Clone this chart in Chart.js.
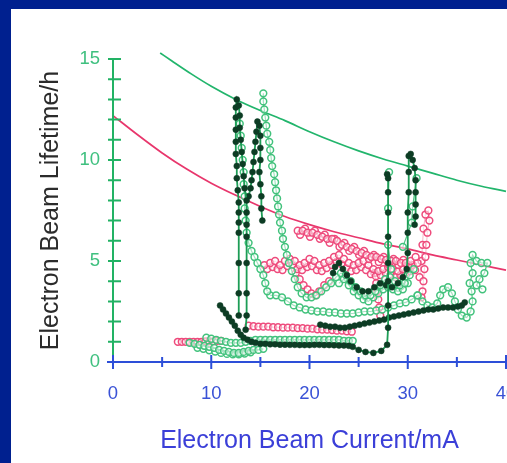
<!DOCTYPE html>
<html>
<head>
<meta charset="utf-8">
<script src="https://cdn.jsdelivr.net/npm/chart.js@4.4.1/dist/chart.umd.min.js"></script>
<style>
  html, body { margin: 0; padding: 0; overflow: hidden; }
  body { width: 507px; height: 463px; background: #00208f; position: relative; }
  #panel { position: absolute; left: 11px; top: 9px; width: 496px; height: 454px; background: #fff; overflow: hidden; }
  #wrap { position: absolute; left: 0; top: 0; width: 540px; height: 454px; }
</style>
</head>
<body>
<div id="panel"><div id="wrap"><canvas id="chart"></canvas></div></div>
<script>
// Lifetime vs. beam current: two model curves plus the measured runs.
const upperCurveCurrent = [4.8, 6, 8, 10, 12.5, 15, 17.5, 20, 22.5, 25, 27.5, 30, 32.5, 35, 37.5, 40];
const upperCurveLifetime = [15.3, 14.9, 14.25, 13.65, 13.0, 12.45, 11.95, 11.4, 10.9, 10.45, 10.05, 9.7, 9.35, 9.0, 8.7, 8.45];

const lowerCurveCurrent = [0, 2.5, 5, 7.5, 10, 12.5, 15, 17.5, 20, 22.5, 25, 27.5, 30, 32.5, 35, 37.5, 40];
const lowerCurveLifetime = [12.2, 11.25, 10.35, 9.55, 8.85, 8.25, 7.7, 7.2, 6.8, 6.45, 6.15, 5.85, 5.6, 5.3, 5.05, 4.8, 4.55];

// measured runs, [current mA, lifetime h]
const darkSpikeA = [
  [12.8, 2.3], [12.8, 3.4], [12.8, 4.9], [12.8, 6.4], [12.8, 6.9], [12.8, 7.4], [12.8, 7.9],
  [12.7, 8.5], [12.6, 9.1], [12.6, 9.7], [12.5, 10.3], [12.5, 10.9], [12.5, 11.5], [12.5, 12.1],
  [12.5, 12.6], [12.6, 13.0], [12.8, 12.7], [12.9, 12.2], [12.9, 11.6], [13.0, 11.0], [13.1, 10.4],
  [13.2, 9.8], [13.3, 9.2], [13.4, 8.6], [13.6, 8.0], [13.6, 7.4], [13.6, 6.8], [13.6, 6.2],
  [13.6, 4.9], [13.6, 3.4], [13.6, 2.3], [13.5, 1.6],
];
const darkSpikeB = [
  [13.8, 8.2], [14.0, 8.6], [14.1, 9.0], [14.2, 9.4], [14.3, 9.9], [14.4, 10.4], [14.5, 10.9],
  [14.6, 11.4], [14.7, 11.9], [14.9, 11.7], [15.0, 11.2], [15.0, 10.6], [15.0, 10.0], [14.9, 9.4],
  [15.0, 8.8], [15.1, 8.2], [15.1, 7.6], [15.2, 7.0],
];
const darkBottom = [
  [10.9, 2.8], [11.2, 2.6], [11.5, 2.4], [11.8, 2.2], [12.1, 2.0], [12.4, 1.8], [12.7, 1.55],
  [13.0, 1.35], [13.3, 1.2], [13.7, 1.1], [14.1, 1.0], [14.5, 0.95], [15.0, 0.9], [15.5, 0.9],
  [16.0, 0.88], [16.5, 0.88], [17.0, 0.86], [17.5, 0.86], [18.0, 0.85], [18.5, 0.85], [19.0, 0.84],
  [19.5, 0.84], [20.0, 0.84], [20.5, 0.85], [21.0, 0.85], [21.5, 0.84], [22.0, 0.84], [22.5, 0.83],
  [23.0, 0.82], [23.5, 0.82], [24.0, 0.8], [24.4, 0.75], [25.0, 0.6], [25.7, 0.5], [26.5, 0.45],
  [27.3, 0.55], [27.9, 0.85], [28.0, 1.7], [28.0, 2.8], [28.0, 4.0], [28.0, 4.9], [28.0, 6.2],
  [28.0, 7.4], [28.0, 8.4], [28.0, 9.1], [27.9, 9.3],
];
const darkMiddle = [
  [22.4, 4.4], [22.6, 4.7], [23.0, 4.9], [23.4, 4.6], [23.8, 4.3], [24.2, 4.0], [24.8, 3.7],
  [25.4, 3.5], [26.0, 3.5], [26.6, 3.7], [27.2, 3.9], [27.8, 3.8], [28.4, 3.7], [29.0, 3.9],
  [29.5, 4.2], [29.9, 4.6], [30.0, 5.4], [30.0, 6.4], [30.0, 7.4], [30.1, 8.4], [30.1, 9.4],
  [30.1, 10.2], [30.3, 10.3], [30.5, 10.0], [30.7, 9.6], [30.8, 9.0], [30.8, 8.4], [30.8, 7.8],
  [30.8, 7.2], [30.7, 6.8],
];
const darkUpperBand = [
  [21.1, 1.85], [21.6, 1.8], [22.1, 1.75], [22.6, 1.75], [23.1, 1.7], [23.6, 1.7], [24.1, 1.75],
  [24.6, 1.8], [25.1, 1.85], [25.6, 1.9], [26.1, 1.95], [26.6, 2.0], [27.1, 2.05], [27.6, 2.1],
  [28.1, 2.2], [28.6, 2.25], [29.1, 2.3], [29.6, 2.35], [30.1, 2.4], [30.6, 2.45], [31.1, 2.5],
  [31.6, 2.55], [32.1, 2.6], [32.6, 2.6], [33.1, 2.65], [33.6, 2.7], [34.1, 2.7], [34.6, 2.7],
  [35.1, 2.75], [35.5, 2.8], [35.8, 2.95],
];

const greenColumn = [
  [12.9, 11.8], [13.0, 11.2], [13.1, 10.6], [13.2, 10.0], [13.3, 9.4], [13.3, 8.8], [13.4, 8.2],
  [13.4, 7.6], [13.5, 7.0], [13.6, 6.4], [13.8, 5.9], [14.1, 5.5], [14.4, 5.2], [14.7, 4.9],
  [15.0, 4.6], [15.3, 4.3], [15.5, 3.9], [15.7, 3.5],
];
const greenDescent = [
  [15.3, 13.3], [15.3, 12.9], [15.4, 12.5], [15.5, 12.1], [15.6, 11.7], [15.7, 11.3], [15.9, 10.9],
  [16.0, 10.5], [16.1, 10.1], [16.2, 9.7], [16.4, 9.3], [16.5, 8.9], [16.6, 8.5], [16.7, 8.1],
  [16.8, 7.7], [16.9, 7.3], [17.0, 6.9], [17.2, 6.5], [17.3, 6.1], [17.5, 5.7], [17.7, 5.3],
  [17.9, 4.9], [18.2, 4.5], [18.5, 4.1], [18.8, 3.7], [19.2, 3.4], [19.7, 3.2], [20.2, 3.2],
  [20.7, 3.3], [21.2, 3.5], [21.7, 3.7], [22.2, 3.9], [22.7, 4.2], [23.2, 4.4], [23.7, 4.3],
  [24.2, 4.0], [24.7, 3.7], [25.2, 3.5], [25.7, 3.3], [26.2, 3.3], [26.7, 3.5], [27.2, 3.8],
  [27.7, 4.1], [28.2, 4.2], [28.7, 4.0], [29.2, 3.8], [29.7, 3.9], [30.2, 4.3], [30.6, 4.6],
];
const greenWave = [
  [23.0, 3.9], [23.5, 4.1], [24.0, 3.8], [24.5, 3.5], [25.0, 3.3], [25.5, 3.1], [26.0, 3.0],
  [26.5, 3.2], [27.0, 3.4], [27.5, 3.6], [28.0, 3.7], [28.5, 3.6], [29.0, 3.5], [29.5, 3.6],
  [30.0, 3.9],
];
const greenBand = [
  [16.0, 3.3], [16.6, 3.3], [17.2, 3.2], [17.8, 3.0], [18.4, 2.8], [19.0, 2.7], [19.6, 2.6],
  [20.2, 2.55], [20.8, 2.5], [21.4, 2.5], [22.0, 2.45], [22.6, 2.45], [23.2, 2.4], [23.8, 2.4],
  [24.4, 2.4], [25.0, 2.45], [25.6, 2.5], [26.2, 2.5], [26.8, 2.55], [27.4, 2.6], [28.0, 2.7],
  [28.6, 2.8], [29.2, 2.9], [29.8, 2.95], [30.4, 3.1], [31.0, 3.3],
];
const greenRight = [
  [31.0, 3.3], [31.5, 3.0], [32.0, 2.8], [32.5, 2.7], [33.0, 2.9], [33.3, 3.3], [33.6, 3.6],
  [34.1, 3.7], [34.5, 3.4], [34.8, 3.0], [35.1, 2.6], [35.5, 2.3], [36.0, 2.2], [36.4, 2.5],
  [36.6, 3.0], [36.5, 3.5], [36.3, 3.9], [36.6, 4.4], [36.4, 4.9], [36.6, 5.3], [37.0, 5.0],
  [37.5, 4.9], [38.1, 4.9], [37.8, 4.4], [37.3, 4.1], [37.0, 3.8], [37.6, 3.6],
];
const greenSpike28 = [[28.3, 4.6], [28.0, 5.8], [28.0, 7.6], [28.1, 9.4]];
const greenSpike30 = [[29.5, 5.7], [30.4, 6.9], [30.5, 7.7], [30.9, 9.1]];
const greenLowBand = [
  [9.5, 1.2], [10.0, 1.15], [10.5, 1.1], [11.0, 1.05], [11.5, 1.0], [12.0, 0.95], [12.5, 0.95],
  [13.0, 0.95], [13.5, 1.0], [14.0, 1.05], [14.5, 1.1], [15.0, 1.1], [15.5, 1.1], [16.0, 1.1],
  [16.5, 1.1], [17.0, 1.1], [17.5, 1.1], [18.0, 1.1], [18.5, 1.1], [19.0, 1.1], [19.5, 1.1],
  [20.0, 1.1], [20.5, 1.1], [21.0, 1.1], [21.5, 1.1], [22.0, 1.1], [22.5, 1.1], [23.0, 1.1],
  [23.5, 1.05], [24.0, 1.05], [24.4, 1.05],
];
const greenFloor = [
  [7.8, 0.95], [8.3, 0.9], [8.8, 0.85], [9.3, 0.8], [9.8, 0.75], [10.3, 0.7], [10.8, 0.6],
  [11.3, 0.55], [11.8, 0.5], [12.3, 0.45], [12.8, 0.45], [13.3, 0.5], [13.8, 0.55], [14.3, 0.6],
  [14.8, 0.6], [15.3, 0.65],
];
const greenFloorLow = [
  [8.6, 0.7], [9.2, 0.65], [9.8, 0.58], [10.4, 0.52], [11.0, 0.45], [11.6, 0.4], [12.2, 0.38],
  [12.8, 0.38], [13.4, 0.42], [14.0, 0.48],
];

const pinkUpper = [
  [18.8, 6.5], [19.3, 6.5], [19.8, 6.4], [20.3, 6.4], [20.8, 6.3], [21.3, 6.2], [21.8, 6.1],
  [22.3, 6.1], [22.8, 6.0], [23.3, 5.8], [23.8, 5.7], [24.3, 5.6], [24.8, 5.5], [25.3, 5.4],
  [25.8, 5.3], [26.3, 5.2], [26.8, 5.2], [27.3, 5.1], [27.8, 5.05], [28.3, 5.0], [28.8, 5.0],
  [29.3, 4.9], [29.8, 4.9], [30.3, 5.0], [30.8, 5.2],
];
const pinkUpperB = [
  [19.05, 6.3], [19.55, 6.6], [20.05, 6.2], [20.55, 6.5], [21.05, 6.1], [21.55, 6.3], [22.05, 5.9],
  [22.55, 6.1], [23.05, 5.7], [23.55, 5.9], [24.05, 5.5], [24.55, 5.7], [25.05, 5.3], [25.55, 5.5],
  [26.05, 5.1], [26.55, 5.3], [27.05, 4.95], [27.55, 5.2], [28.05, 4.85], [28.55, 5.1], [29.05, 4.8],
  [29.55, 5.05], [30.05, 4.8],
];
const pinkMiddle = [
  [15.4, 4.8], [16.0, 4.9], [16.5, 5.0], [17.0, 4.8], [17.5, 5.0], [18.0, 5.1], [18.5, 5.0],
  [19.0, 4.8], [19.5, 4.9], [20.0, 5.1], [20.5, 5.0], [21.0, 4.8], [21.5, 4.9], [22.0, 5.0],
  [22.5, 5.2], [23.0, 5.3], [23.5, 5.1], [24.0, 4.9], [24.5, 4.8], [25.0, 4.9], [25.5, 5.0],
  [26.0, 4.8], [26.5, 4.6], [27.0, 4.5], [27.5, 4.6], [28.0, 4.7], [28.5, 4.6], [29.0, 4.5],
  [29.5, 4.6], [30.0, 4.7], [30.5, 4.8], [31.0, 4.9],
];
const pinkMiddleB = [
  [15.7, 4.6], [16.25, 4.7], [16.75, 4.6], [17.25, 4.55], [17.75, 4.75], [18.25, 4.8], [18.75, 4.6],
  [19.25, 4.55], [19.75, 4.7], [20.25, 4.75], [20.75, 4.55], [21.25, 4.5], [21.75, 4.65], [22.25, 4.8],
  [22.75, 4.95], [23.25, 4.85], [23.75, 4.65], [24.25, 4.5], [24.75, 4.55], [25.25, 4.7], [25.75, 4.55],
  [26.25, 4.35], [26.75, 4.25], [27.25, 4.3], [27.75, 4.4], [28.25, 4.3], [28.75, 4.2], [29.25, 4.3],
  [29.75, 4.4], [30.25, 4.5], [30.75, 4.55],
];
const pinkSpike = [
  [31.2, 4.2], [31.4, 5.0], [31.5, 5.8], [31.6, 6.6], [31.8, 7.3], [32.1, 7.5], [32.2, 7.0],
  [32.0, 6.4], [31.9, 5.8], [31.8, 5.2], [31.7, 4.6], [31.6, 4.0], [31.5, 3.5], [31.4, 3.2],
];
const pinkDropLeft = [
  [18.6, 4.4], [19.0, 4.1], [19.4, 3.8], [19.8, 3.6], [20.2, 3.4], [20.6, 3.3], [21.0, 3.5],
  [21.5, 3.8], [22.0, 4.0],
];
const pinkDropRight = [[26.6, 4.4], [26.8, 3.9], [26.9, 3.5], [27.0, 3.1], [27.1, 2.7], [27.2, 2.3]];
const pinkLow = [
  [13.8, 1.8], [14.3, 1.77], [14.8, 1.75], [15.3, 1.75], [15.8, 1.75], [16.3, 1.72], [16.8, 1.72],
  [17.3, 1.7], [17.8, 1.7], [18.3, 1.7], [18.8, 1.68], [19.3, 1.68], [19.8, 1.65], [20.3, 1.65],
  [20.8, 1.62], [21.3, 1.6], [21.8, 1.6], [22.3, 1.58], [22.8, 1.55], [23.3, 1.55], [23.8, 1.52],
  [24.3, 1.5],
];
const pinkLeft = [
  [6.6, 1.0], [7.0, 1.0], [7.4, 1.0], [7.8, 1.0], [8.2, 1.0], [8.6, 1.0], [9.0, 1.0],
  [9.4, 1.02], [9.8, 1.02], [10.2, 1.02], [10.6, 1.05], [11.0, 1.05],
];

const FONT = "'Liberation Sans', Arial, sans-serif";
const GREEN_AXIS = "#22b264";
const BLUE_AXIS = "#2d4fd8";

function pts(pairs) {
  return pairs.map(([x, y]) => ({ x, y }));
}

function zipXY(xs, ys) {
  return xs.map((x, i) => ({ x, y: ys[i] }));
}

function darkRun(pairs) {
  return {
    data: pts(pairs),
    showLine: true,
    borderColor: "#1d9d56",
    borderWidth: 1.8,
    pointRadius: 3,
    pointBackgroundColor: "#0d3c24",
    pointBorderColor: "#0d3c24",
    pointBorderWidth: 0.5,
    order: 1,
  };
}

function greenRun(pairs) {
  return {
    data: pts(pairs),
    showLine: true,
    borderColor: "rgba(60, 190, 118, 0.9)",
    borderWidth: 1.2,
    pointRadius: 3.4,
    pointBackgroundColor: "rgba(255,255,255,0.5)",
    pointBorderColor: "#42c27c",
    pointBorderWidth: 1.5,
    order: 2,
  };
}

function pinkRun(pairs) {
  return {
    data: pts(pairs),
    showLine: true,
    borderColor: "rgba(240, 120, 155, 0.55)",
    borderWidth: 1,
    pointRadius: 3.4,
    pointBackgroundColor: "rgba(255,255,255,0.5)",
    pointBorderColor: "#ee4b7c",
    pointBorderWidth: 1.5,
    order: 3,
  };
}

function curve(xs, ys, color) {
  return {
    data: zipXY(xs, ys),
    showLine: true,
    borderColor: color,
    borderWidth: 1.7,
    pointRadius: 0,
    cubicInterpolationMode: "monotone",
    clip: false,
    order: 4,
  };
}

// Axis lines with ticks crossing them, drawn through the chart's own scales.
const crossAxesPlugin = {
  id: "crossAxes",
  afterDatasetsDraw(chart) {
    const { ctx, scales: { x, y } } = chart;
    const x0 = x.getPixelForValue(0);
    const y0 = y.getPixelForValue(0);
    ctx.save();
    ctx.lineWidth = 2;

    ctx.strokeStyle = GREEN_AXIS;
    ctx.beginPath();
    ctx.moveTo(x0, y.getPixelForValue(15));
    ctx.lineTo(x0, y0 + 4);
    for (let v = 1; v <= 15; v++) {
      const py = y.getPixelForValue(v);
      ctx.moveTo(x0 - 5, py);
      ctx.lineTo(x0 + 8, py);
    }
    ctx.stroke();

    ctx.strokeStyle = BLUE_AXIS;
    ctx.beginPath();
    ctx.moveTo(x0 - 6, y0);
    ctx.lineTo(chart.width, y0);
    for (let v = 0; v <= 40; v += 5) {
      const px = x.getPixelForValue(v);
      const len = v % 10 === 0 ? 7 : 5;
      ctx.moveTo(px, y0 - len);
      ctx.lineTo(px, y0 + len);
    }
    ctx.stroke();
    ctx.restore();
  },
};

const datasets = [
  darkRun(darkSpikeA),
  darkRun(darkSpikeB),
  darkRun(darkBottom),
  darkRun(darkMiddle),
  darkRun(darkUpperBand),
  greenRun(greenColumn),
  greenRun(greenDescent),
  greenRun(greenWave),
  greenRun(greenBand),
  greenRun(greenRight),
  greenRun(greenSpike28),
  greenRun(greenSpike30),
  greenRun(greenLowBand),
  greenRun(greenFloor),
  greenRun(greenFloorLow),
  pinkRun(pinkUpper),
  pinkRun(pinkUpperB),
  pinkRun(pinkMiddle),
  pinkRun(pinkMiddleB),
  pinkRun(pinkSpike),
  pinkRun(pinkDropLeft),
  pinkRun(pinkDropRight),
  pinkRun(pinkLow),
  pinkRun(pinkLeft),
  curve(upperCurveCurrent, upperCurveLifetime, "#22b56c"),
  curve(lowerCurveCurrent, lowerCurveLifetime, "#e8366c"),
];

new Chart(document.getElementById("chart"), {
  type: "scatter",
  data: { datasets },
  options: {
    responsive: true,
    maintainAspectRatio: false,
    animation: false,
    events: [],
    layout: { padding: { top: 50, right: 45, bottom: 0, left: 0 } },
    plugins: { legend: { display: false }, tooltip: { enabled: false } },
    scales: {
      x: {
        type: "linear",
        min: 0,
        max: 40,
        grid: { display: false, drawTicks: false },
        border: { display: false },
        afterFit: (scale) => { scale.height = 101; },
        ticks: {
          stepSize: 10,
          padding: 21,
          maxRotation: 0,
          color: "#3a52d6",
          font: { family: FONT, size: 18.5 },
        },
        title: {
          display: true,
          text: "Electron Beam Current/mA",
          color: "#3b3fd8",
          font: { family: FONT, size: 25 },
          padding: { top: 0, bottom: 7 },
        },
      },
      y: {
        type: "linear",
        min: 0,
        max: 15,
        grid: { display: false, drawTicks: false },
        border: { display: false },
        afterFit: (scale) => { scale.width = 102; },
        ticks: {
          stepSize: 5,
          padding: 13,
          color: "#3fc07f",
          font: { family: FONT, size: 18.5 },
        },
        title: {
          display: true,
          text: "Electron Beam Lifetime/h",
          color: "#2b2b2b",
          font: { family: FONT, size: 25 },
          padding: { top: 25, bottom: 0 },
        },
      },
    },
  },
  plugins: [crossAxesPlugin],
});
</script>
</body>
</html>
